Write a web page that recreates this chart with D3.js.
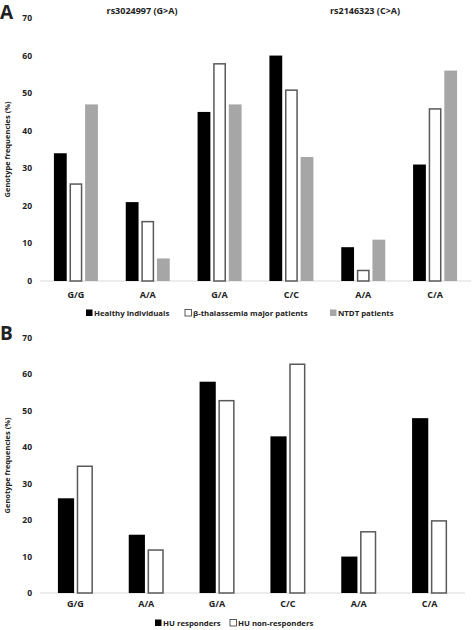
<!DOCTYPE html>
<html><head><meta charset="utf-8">
<script src="https://cdn.jsdelivr.net/npm/d3@7"></script>
<style>body{margin:0;background:#fff}svg text{font-family:"Open Sans",sans-serif;font-weight:700;fill:#222}</style>
</head><body>
<svg id="c" width="472" height="630"></svg>
<script>
const categories = ["G/G","A/A","G/A","C/C","A/A","C/A"];
const seriesA = ["Healthy individuals","β-thalassemia major patients","NTDT patients"];
const healthy = [34,21,45,60,9,31];
const betaThal = [26,16,58,51,3,46];
const ntdt = [47,6,47,33,11,56];
const seriesB = ["HU responders","HU non-responders"];
const responders = [26,16,58,43,10,48];
const nonResponders = [35,12,53,63,17,20];
const yTicks = [0,10,20,30,40,50,60,70];
const snpTitles = ["rs3024997 (G>A)","rs2146323 (C>A)"];

const styles = [
  {fill:"#000",stroke:"none"},
  {fill:"#fff",stroke:"#595959"},
  {fill:"#a6a6a6",stroke:"none"}
];
const svg = d3.select("#c");

function panel(cfg){
  const g = svg.append("g");
  const x = d3.scaleBand().domain(d3.range(categories.length)).range([cfg.x0,cfg.x1]);
  const y = d3.scaleLinear().domain([0,70]).range([cfg.y0,cfg.y1]);
  g.selectAll(".yt").data(yTicks).join("text")
    .attr("x",32).attr("y",d=>y(d)).attr("dy","0.35em")
    .attr("text-anchor","end").attr("font-size",8.5).text(d=>d);
  g.append("line").attr("x1",cfg.x0).attr("x2",cfg.x1).attr("y1",y(0)).attr("y2",y(0))
    .attr("stroke","#d9d9d9").attr("stroke-width",1.2);
  const n = cfg.data.length;
  const inner = d3.scaleBand().domain(d3.range(n)).range([0,cfg.groupW]).paddingInner(cfg.pad);
  cfg.data.forEach((vals,si)=>{
    const st = styles[si];
    const s = st.stroke!=="none";
    g.selectAll(".b"+si).data(vals).join("rect")
      .attr("x",(d,i)=>x(i)+x.bandwidth()/2-cfg.groupW/2+inner(si)+(s?0.75:0))
      .attr("width",inner.bandwidth()-(s?1.5:0))
      .attr("y",d=>y(d)+(s?0.75:0))
      .attr("height",d=>y(0)-y(d)-(s?0.75:0))
      .attr("fill",st.fill).attr("stroke",st.stroke).attr("stroke-width",1.5);
  });
  g.selectAll(".xt").data(categories).join("text")
    .attr("x",(d,i)=>x(i)+x.bandwidth()/2).attr("y",cfg.xLabY)
    .attr("text-anchor","middle").attr("font-size",9).text(d=>d);
  g.append("text").attr("transform",`translate(10,${(y(0)+y(70))/2}) rotate(-90)`)
    .attr("text-anchor","middle").attr("font-size",7.5).attr("font-weight",600).text("Genotype frequencies (%)");
  g.append("text").attr("x",0).attr("y",cfg.letterY).attr("font-size",19).attr("font-family","Liberation Sans, Arial").attr("font-weight",700).attr("fill","#000").text(cfg.letter);
  cfg.names.forEach((nm,si)=>{
    const st = styles[si];
    g.append("rect").attr("x",cfg.legX[si]).attr("y",cfg.legY-6.5).attr("width",6.5).attr("height",6.5)
      .attr("fill",st.fill).attr("stroke",st.stroke==="none"?"none":"#333").attr("stroke-width",0.8);
    g.append("text").attr("x",cfg.legX[si]+8).attr("y",cfg.legY).attr("font-size",7.8).text(nm);
  });
  return {x,y};
}

panel({x0:40,x1:471,y0:281,y1:18,data:[healthy,betaThal,ntdt],groupW:44,pad:0.18,
  xLabY:298,letter:"A",letterY:19,names:seriesA,legX:[86,185,330],legY:316});
[142,365].forEach((cx,i)=>{
  svg.append("text").attr("x",cx).attr("y",14).attr("text-anchor","middle").attr("font-size",9).text(snpTitles[i]);
});
panel({x0:40,x1:465,y0:593,y1:338,data:[responders,nonResponders],groupW:35,pad:0.14,
  xLabY:607,letter:"B",letterY:340,names:seriesB,legX:[155,230],legY:626});
</script>
</body></html>
